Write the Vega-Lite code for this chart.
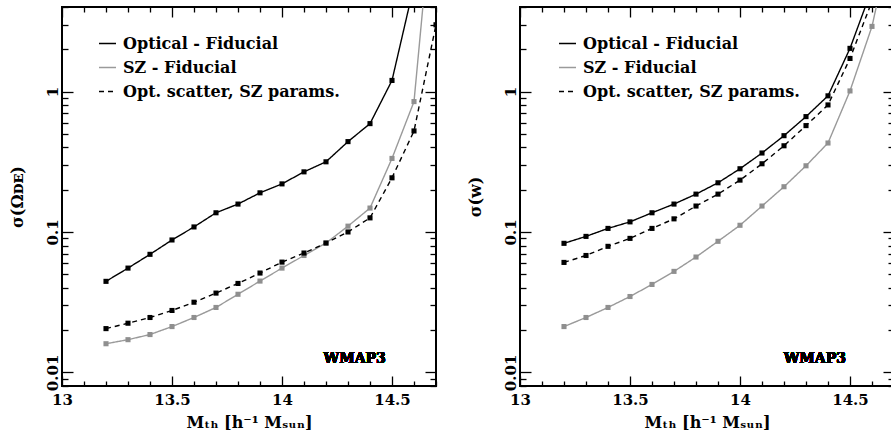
{
  "$schema": "https://vega.github.io/schema/vega-lite/v6.json",
  "background": "white",
  "padding": {"left": 8, "top": 5, "right": 0, "bottom": 0},
  "autosize": {"type": "pad"},
  "spacing": 28,
  "datasets": {
    "omega": [
      {"series": "Optical - Fiducial", "m": 13.2, "sigma": 0.0445},
      {"series": "Optical - Fiducial", "m": 13.3, "sigma": 0.0553},
      {"series": "Optical - Fiducial", "m": 13.4, "sigma": 0.0693},
      {"series": "Optical - Fiducial", "m": 13.5, "sigma": 0.0877},
      {"series": "Optical - Fiducial", "m": 13.6, "sigma": 0.1086},
      {"series": "Optical - Fiducial", "m": 13.7, "sigma": 0.137},
      {"series": "Optical - Fiducial", "m": 13.8, "sigma": 0.158},
      {"series": "Optical - Fiducial", "m": 13.9, "sigma": 0.19},
      {"series": "Optical - Fiducial", "m": 14.0, "sigma": 0.22},
      {"series": "Optical - Fiducial", "m": 14.1, "sigma": 0.268},
      {"series": "Optical - Fiducial", "m": 14.2, "sigma": 0.316},
      {"series": "Optical - Fiducial", "m": 14.3, "sigma": 0.44},
      {"series": "Optical - Fiducial", "m": 14.4, "sigma": 0.591},
      {"series": "Optical - Fiducial", "m": 14.5, "sigma": 1.2},
      {"series": "Optical - Fiducial", "m": 14.6, "sigma": 5.7},
      {"series": "SZ - Fiducial", "m": 13.2, "sigma": 0.016},
      {"series": "SZ - Fiducial", "m": 13.3, "sigma": 0.0171},
      {"series": "SZ - Fiducial", "m": 13.4, "sigma": 0.0186},
      {"series": "SZ - Fiducial", "m": 13.5, "sigma": 0.0212},
      {"series": "SZ - Fiducial", "m": 13.6, "sigma": 0.0246},
      {"series": "SZ - Fiducial", "m": 13.7, "sigma": 0.029},
      {"series": "SZ - Fiducial", "m": 13.8, "sigma": 0.036},
      {"series": "SZ - Fiducial", "m": 13.9, "sigma": 0.0447},
      {"series": "SZ - Fiducial", "m": 14.0, "sigma": 0.0553},
      {"series": "SZ - Fiducial", "m": 14.1, "sigma": 0.068},
      {"series": "SZ - Fiducial", "m": 14.2, "sigma": 0.0834},
      {"series": "SZ - Fiducial", "m": 14.3, "sigma": 0.11},
      {"series": "SZ - Fiducial", "m": 14.4, "sigma": 0.148},
      {"series": "SZ - Fiducial", "m": 14.5, "sigma": 0.334},
      {"series": "SZ - Fiducial", "m": 14.6, "sigma": 0.848},
      {"series": "SZ - Fiducial", "m": 14.7, "sigma": 40},
      {"series": "Opt. scatter, SZ params.", "m": 13.2, "sigma": 0.0205},
      {"series": "Opt. scatter, SZ params.", "m": 13.3, "sigma": 0.0224},
      {"series": "Opt. scatter, SZ params.", "m": 13.4, "sigma": 0.0246},
      {"series": "Opt. scatter, SZ params.", "m": 13.5, "sigma": 0.0276},
      {"series": "Opt. scatter, SZ params.", "m": 13.6, "sigma": 0.0316},
      {"series": "Opt. scatter, SZ params.", "m": 13.7, "sigma": 0.0367},
      {"series": "Opt. scatter, SZ params.", "m": 13.8, "sigma": 0.043},
      {"series": "Opt. scatter, SZ params.", "m": 13.9, "sigma": 0.051},
      {"series": "Opt. scatter, SZ params.", "m": 14.0, "sigma": 0.061},
      {"series": "Opt. scatter, SZ params.", "m": 14.1, "sigma": 0.0708},
      {"series": "Opt. scatter, SZ params.", "m": 14.2, "sigma": 0.0834},
      {"series": "Opt. scatter, SZ params.", "m": 14.3, "sigma": 0.1},
      {"series": "Opt. scatter, SZ params.", "m": 14.4, "sigma": 0.126},
      {"series": "Opt. scatter, SZ params.", "m": 14.5, "sigma": 0.243},
      {"series": "Opt. scatter, SZ params.", "m": 14.6, "sigma": 0.524},
      {"series": "Opt. scatter, SZ params.", "m": 14.7, "sigma": 2.99}
    ],
    "w": [
      {"series": "Optical - Fiducial", "m": 13.2, "sigma": 0.083},
      {"series": "Optical - Fiducial", "m": 13.3, "sigma": 0.093},
      {"series": "Optical - Fiducial", "m": 13.4, "sigma": 0.106},
      {"series": "Optical - Fiducial", "m": 13.5, "sigma": 0.118},
      {"series": "Optical - Fiducial", "m": 13.6, "sigma": 0.137},
      {"series": "Optical - Fiducial", "m": 13.7, "sigma": 0.158},
      {"series": "Optical - Fiducial", "m": 13.8, "sigma": 0.186},
      {"series": "Optical - Fiducial", "m": 13.9, "sigma": 0.224},
      {"series": "Optical - Fiducial", "m": 14.0, "sigma": 0.282},
      {"series": "Optical - Fiducial", "m": 14.1, "sigma": 0.365},
      {"series": "Optical - Fiducial", "m": 14.2, "sigma": 0.485},
      {"series": "Optical - Fiducial", "m": 14.3, "sigma": 0.663},
      {"series": "Optical - Fiducial", "m": 14.4, "sigma": 0.932},
      {"series": "Optical - Fiducial", "m": 14.5, "sigma": 2.03},
      {"series": "Optical - Fiducial", "m": 14.6, "sigma": 5.4},
      {"series": "SZ - Fiducial", "m": 13.2, "sigma": 0.0212},
      {"series": "SZ - Fiducial", "m": 13.3, "sigma": 0.0246},
      {"series": "SZ - Fiducial", "m": 13.4, "sigma": 0.029},
      {"series": "SZ - Fiducial", "m": 13.5, "sigma": 0.0347},
      {"series": "SZ - Fiducial", "m": 13.6, "sigma": 0.0423},
      {"series": "SZ - Fiducial", "m": 13.7, "sigma": 0.0524},
      {"series": "SZ - Fiducial", "m": 13.8, "sigma": 0.0663},
      {"series": "SZ - Fiducial", "m": 13.9, "sigma": 0.0858},
      {"series": "SZ - Fiducial", "m": 14.0, "sigma": 0.1116},
      {"series": "SZ - Fiducial", "m": 14.1, "sigma": 0.153},
      {"series": "SZ - Fiducial", "m": 14.2, "sigma": 0.21},
      {"series": "SZ - Fiducial", "m": 14.3, "sigma": 0.296},
      {"series": "SZ - Fiducial", "m": 14.4, "sigma": 0.43},
      {"series": "SZ - Fiducial", "m": 14.5, "sigma": 1.01},
      {"series": "SZ - Fiducial", "m": 14.6, "sigma": 2.91},
      {"series": "SZ - Fiducial", "m": 14.7, "sigma": 15},
      {"series": "Opt. scatter, SZ params.", "m": 13.2, "sigma": 0.0607},
      {"series": "Opt. scatter, SZ params.", "m": 13.3, "sigma": 0.068},
      {"series": "Opt. scatter, SZ params.", "m": 13.4, "sigma": 0.079},
      {"series": "Opt. scatter, SZ params.", "m": 13.5, "sigma": 0.09},
      {"series": "Opt. scatter, SZ params.", "m": 13.6, "sigma": 0.106},
      {"series": "Opt. scatter, SZ params.", "m": 13.7, "sigma": 0.124},
      {"series": "Opt. scatter, SZ params.", "m": 13.8, "sigma": 0.153},
      {"series": "Opt. scatter, SZ params.", "m": 13.9, "sigma": 0.186},
      {"series": "Opt. scatter, SZ params.", "m": 14.0, "sigma": 0.234},
      {"series": "Opt. scatter, SZ params.", "m": 14.1, "sigma": 0.306},
      {"series": "Opt. scatter, SZ params.", "m": 14.2, "sigma": 0.411},
      {"series": "Opt. scatter, SZ params.", "m": 14.3, "sigma": 0.572},
      {"series": "Opt. scatter, SZ params.", "m": 14.4, "sigma": 0.803},
      {"series": "Opt. scatter, SZ params.", "m": 14.5, "sigma": 1.72},
      {"series": "Opt. scatter, SZ params.", "m": 14.6, "sigma": 4.4}
    ]
  },
  "hconcat": [
    {
      "width": 374,
      "height": 379,
      "data": {"name": "omega"},
      "layer": [
        {
          "mark": {"type": "line", "clip": true, "strokeWidth": 1.4},
          "encoding": {
            "x": {"field": "m", "type": "quantitative",
              "scale": {"domain": [13, 14.7], "nice": false, "zero": false},
              "axis": {"orient": "bottom", "values": [13, 13.1, 13.2, 13.3, 13.4, 13.5, 13.6, 13.7, 13.8, 13.9, 14, 14.1, 14.2, 14.3, 14.4, 14.5, 14.6, 14.7],
                "format": "~g", "labelExpr": "abs(datum.value*2 - round(datum.value*2)) < 1e-6 ? datum.label : ''",
                "tickSize": {"condition": {"test": "abs(datum.value*2 - round(datum.value*2)) < 1e-6", "value": -10}, "value": -5},
                "labelPadding": 16, "title": "Mₜₕ [h⁻¹ Mₛᵤₙ]", "titlePadding": 2}},
            "y": {"field": "sigma", "type": "quantitative",
              "scale": {"type": "log", "domain": [0.008, 4], "nice": false},
              "axis": {"orient": "left", "values": [0.008, 0.009, 0.01, 0.02, 0.03, 0.04, 0.05, 0.06, 0.07, 0.08, 0.09, 0.1, 0.2, 0.3, 0.4, 0.5, 0.6, 0.7, 0.8, 0.9, 1, 2, 3, 4],
                "format": "~g", "labelExpr": "abs(log(datum.value)/LN10 - round(log(datum.value)/LN10)) < 1e-6 ? datum.label : ''",
                "tickSize": {"condition": {"test": "abs(log(datum.value)/LN10 - round(log(datum.value)/LN10)) < 1e-6", "value": -11}, "value": -6},
                "labelAngle": -90, "labelAlign": "center", "labelBaseline": "bottom",
                "labelPadding": 13, "title": "σ(Ωᴅᴇ)", "titlePadding": 15}},
            "color": {"field": "series", "type": "nominal",
              "scale": {"domain": ["Optical - Fiducial", "SZ - Fiducial", "Opt. scatter, SZ params."], "range": ["black", "#9a9a9a", "black"]},
              "legend": {"orient": "none", "legendX": 36, "legendY": 27, "title": null}},
            "strokeDash": {"field": "series", "type": "nominal",
              "scale": {"domain": ["Optical - Fiducial", "SZ - Fiducial", "Opt. scatter, SZ params."], "range": [[1, 0], [1, 0], [5, 4]]},
              "legend": {"orient": "none", "legendX": 36, "legendY": 27, "title": null}}
          }
        },
        {
          "mark": {"type": "square", "clip": true, "size": 26, "opacity": 1, "filled": true},
          "encoding": {
            "x": {"field": "m", "type": "quantitative",
              "axis": {"orient": "top", "values": [13, 13.1, 13.2, 13.3, 13.4, 13.5, 13.6, 13.7, 13.8, 13.9, 14, 14.1, 14.2, 14.3, 14.4, 14.5, 14.6, 14.7],
                "labels": false, "title": null,
                "tickSize": {"condition": {"test": "abs(datum.value*2 - round(datum.value*2)) < 1e-6", "value": -10}, "value": -5}}},
            "y": {"field": "sigma", "type": "quantitative",
              "axis": {"orient": "right", "values": [0.008, 0.009, 0.01, 0.02, 0.03, 0.04, 0.05, 0.06, 0.07, 0.08, 0.09, 0.1, 0.2, 0.3, 0.4, 0.5, 0.6, 0.7, 0.8, 0.9, 1, 2, 3, 4],
                "labels": false, "title": null,
                "tickSize": {"condition": {"test": "abs(log(datum.value)/LN10 - round(log(datum.value)/LN10)) < 1e-6", "value": -11}, "value": -6}}},
            "color": {"condition": {"test": "datum.series === 'SZ - Fiducial'", "value": "#8f8f8f"}, "value": "black"}
          }
        },
        {
          "mark": {"type": "text", "text": "WMAP3", "font": "DejaVu Serif", "fontSize": 14, "fontWeight": "bold", "align": "center", "baseline": "middle", "color": "black"},
          "encoding": {
            "x": {"datum": 14.33, "type": "quantitative", "axis": null},
            "y": {"datum": 0.0124, "type": "quantitative", "axis": null}
          }
        }
      ],
      "resolve": {"axis": {"x": "independent", "y": "independent"}}
    },
    {
      "width": 374,
      "height": 379,
      "data": {"name": "w"},
      "layer": [
        {
          "mark": {"type": "line", "clip": true, "strokeWidth": 1.4},
          "encoding": {
            "x": {"field": "m", "type": "quantitative",
              "scale": {"domain": [13, 14.7], "nice": false, "zero": false},
              "axis": {"orient": "bottom", "values": [13, 13.1, 13.2, 13.3, 13.4, 13.5, 13.6, 13.7, 13.8, 13.9, 14, 14.1, 14.2, 14.3, 14.4, 14.5, 14.6, 14.7],
                "format": "~g", "labelExpr": "abs(datum.value*2 - round(datum.value*2)) < 1e-6 ? datum.label : ''",
                "tickSize": {"condition": {"test": "abs(datum.value*2 - round(datum.value*2)) < 1e-6", "value": -10}, "value": -5},
                "labelPadding": 16, "title": "Mₜₕ [h⁻¹ Mₛᵤₙ]", "titlePadding": 2}},
            "y": {"field": "sigma", "type": "quantitative",
              "scale": {"type": "log", "domain": [0.008, 4], "nice": false},
              "axis": {"orient": "left", "values": [0.008, 0.009, 0.01, 0.02, 0.03, 0.04, 0.05, 0.06, 0.07, 0.08, 0.09, 0.1, 0.2, 0.3, 0.4, 0.5, 0.6, 0.7, 0.8, 0.9, 1, 2, 3, 4],
                "format": "~g", "labelExpr": "abs(log(datum.value)/LN10 - round(log(datum.value)/LN10)) < 1e-6 ? datum.label : ''",
                "tickSize": {"condition": {"test": "abs(log(datum.value)/LN10 - round(log(datum.value)/LN10)) < 1e-6", "value": -11}, "value": -6},
                "labelAngle": -90, "labelAlign": "center", "labelBaseline": "bottom",
                "labelPadding": 13, "title": "σ(w)", "titlePadding": 15}},
            "color": {"field": "series", "type": "nominal",
              "scale": {"domain": ["Optical - Fiducial", "SZ - Fiducial", "Opt. scatter, SZ params."], "range": ["black", "#9a9a9a", "black"]},
              "legend": {"orient": "none", "legendX": 38, "legendY": 27, "title": null}},
            "strokeDash": {"field": "series", "type": "nominal",
              "scale": {"domain": ["Optical - Fiducial", "SZ - Fiducial", "Opt. scatter, SZ params."], "range": [[1, 0], [1, 0], [5, 4]]},
              "legend": {"orient": "none", "legendX": 38, "legendY": 27, "title": null}}
          }
        },
        {
          "mark": {"type": "square", "clip": true, "size": 26, "opacity": 1, "filled": true},
          "encoding": {
            "x": {"field": "m", "type": "quantitative",
              "axis": {"orient": "top", "values": [13, 13.1, 13.2, 13.3, 13.4, 13.5, 13.6, 13.7, 13.8, 13.9, 14, 14.1, 14.2, 14.3, 14.4, 14.5, 14.6, 14.7],
                "labels": false, "title": null,
                "tickSize": {"condition": {"test": "abs(datum.value*2 - round(datum.value*2)) < 1e-6", "value": -10}, "value": -5}}},
            "y": {"field": "sigma", "type": "quantitative",
              "axis": {"orient": "right", "values": [0.008, 0.009, 0.01, 0.02, 0.03, 0.04, 0.05, 0.06, 0.07, 0.08, 0.09, 0.1, 0.2, 0.3, 0.4, 0.5, 0.6, 0.7, 0.8, 0.9, 1, 2, 3, 4],
                "labels": false, "title": null,
                "tickSize": {"condition": {"test": "abs(log(datum.value)/LN10 - round(log(datum.value)/LN10)) < 1e-6", "value": -11}, "value": -6}}},
            "color": {"condition": {"test": "datum.series === 'SZ - Fiducial'", "value": "#8f8f8f"}, "value": "black"}
          }
        },
        {
          "mark": {"type": "text", "text": "WMAP3", "font": "DejaVu Serif", "fontSize": 14, "fontWeight": "bold", "align": "center", "baseline": "middle", "color": "black"},
          "encoding": {
            "x": {"datum": 14.34, "type": "quantitative", "axis": null},
            "y": {"datum": 0.0124, "type": "quantitative", "axis": null}
          }
        }
      ],
      "resolve": {"axis": {"x": "independent", "y": "independent"}}
    }
  ],
  "resolve": {
    "scale": {"x": "independent", "y": "independent", "color": "independent", "strokeDash": "independent"},
    "legend": {"color": "independent", "strokeDash": "independent"}
  },
  "config": {
    "view": {"stroke": "black", "strokeWidth": 2},
    "axis": {
      "domain": false, "grid": false, "tickColor": "black", "tickWidth": 1.3,
      "labelFont": "DejaVu Serif", "labelFontSize": 15, "labelFontWeight": "bold", "labelColor": "black",
      "labelFlush": false, "labelOverlap": false, "labelBound": false,
      "titleFont": "DejaVu Serif", "titleFontSize": 16, "titleFontWeight": "bold", "titleColor": "black"
    },
    "legend": {
      "symbolType": "stroke", "symbolSize": 289, "symbolStrokeWidth": 1.5,
      "labelFont": "DejaVu Serif", "labelFontSize": 16, "labelFontWeight": "bold", "labelColor": "black",
      "rowPadding": 6, "labelOffset": 6, "labelLimit": 400
    }
  }
}
